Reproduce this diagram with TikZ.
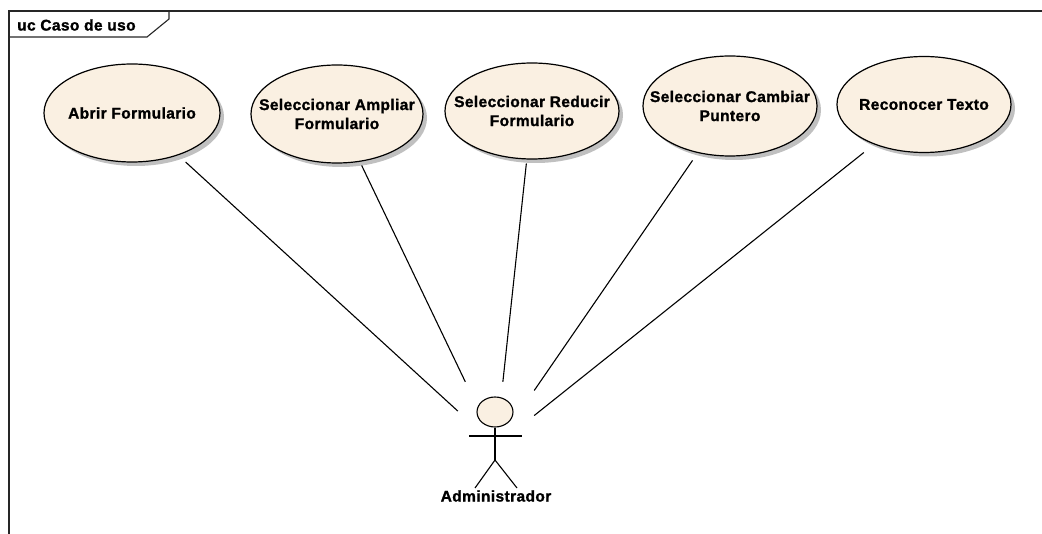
\documentclass[tikz,border=0pt]{standalone}
\usepackage{fontspec}
\setmainfont{Liberation Sans}[LetterSpace=2.5, BoldFeatures={FakeBold=1.3}]
\usetikzlibrary{shapes.geometric,shadows}
\definecolor{ucfill}{RGB}{250,240,226}
\definecolor{ucshadow}{RGB}{192,192,192}
\newcommand{\ucline}[1]{\makebox[0pt][c]{#1}}
\begin{document}
\begin{tikzpicture}[x=1pt,y=-1pt,
  lbl/.style={font=\fontsize{15.5}{19}\selectfont\bfseries},
  usecase/.style={ellipse, draw=black, line width=1.2pt, fill=ucfill,
    inner sep=0pt, align=center, lbl,
    drop shadow={shadow xshift=4pt, shadow yshift=-4pt, fill=ucshadow, opacity=1}},
  assoc/.style={draw=black, line width=1.1pt},
  framepen/.style={draw=black!85, line width=1.1pt},
  stick/.style={draw=black, line width=1.1pt}]
\useasboundingbox (0,0) rectangle (1042,534);

% diagram frame with its name tab
\draw[framepen] (9,534) -- (9,11) -- (1042,11);
\draw[framepen] (9,37) -- (147,37) -- (169,19) -- (169,11);
\node[lbl, anchor=west, inner sep=0pt] (frametitle) at (17,25) {uc Caso de uso};

% use cases
\node[usecase, minimum width=176pt, minimum height=98pt] (uc1) at (132,113)
  {\ucline{Abrir Formulario}};
\node[usecase, minimum width=172pt, minimum height=98pt] (uc2) at (337,114)
  {\ucline{Seleccionar Ampliar}\\\ucline{Formulario}};
\node[usecase, minimum width=174pt, minimum height=96pt] (uc3) at (532,111)
  {\ucline{Seleccionar Reducir}\\\ucline{Formulario}};
\node[usecase, minimum width=174pt, minimum height=100pt] (uc4) at (730,106)
  {\ucline{Seleccionar Cambiar}\\\ucline{Puntero}};
\node[usecase, minimum width=174pt, minimum height=96pt] (uc5) at (924,104.5)
  {\ucline{Reconocer Texto}};

% actor: bounding area, stick figure and name
\node[minimum width=76pt, minimum height=128pt, inner sep=0pt] (admin) at (496,446) {};
\node[ellipse, draw=black, line width=1.1pt, fill=ucfill, inner sep=0pt,
  minimum width=36pt, minimum height=30pt] (head) at (495,412) {};
\coordinate (hip) at (495,460);
\coordinate (lhand) at (469,436);
\coordinate (rhand) at (522,436);
\coordinate (lfoot) at (475,488);
\coordinate (rfoot) at (517,488);
\draw[stick] (head.south) -- (hip);
\draw[stick] (lhand) -- (rhand);
\draw[stick] (lfoot) -- (hip) -- (rfoot);
\node[lbl] (adminname) at (496,496) {Administrador};

% associations
\draw[assoc, shorten <=10pt] (uc1) -- (admin);
\draw[assoc, shorten <=4pt] (uc2) -- (admin);
\draw[assoc, shorten <=4pt] (uc3) -- (admin);
\draw[assoc, shorten <=9pt] (uc4) -- (admin);
\draw[assoc, shorten <=13pt] (uc5) -- (admin);
\end{tikzpicture}
\end{document}
